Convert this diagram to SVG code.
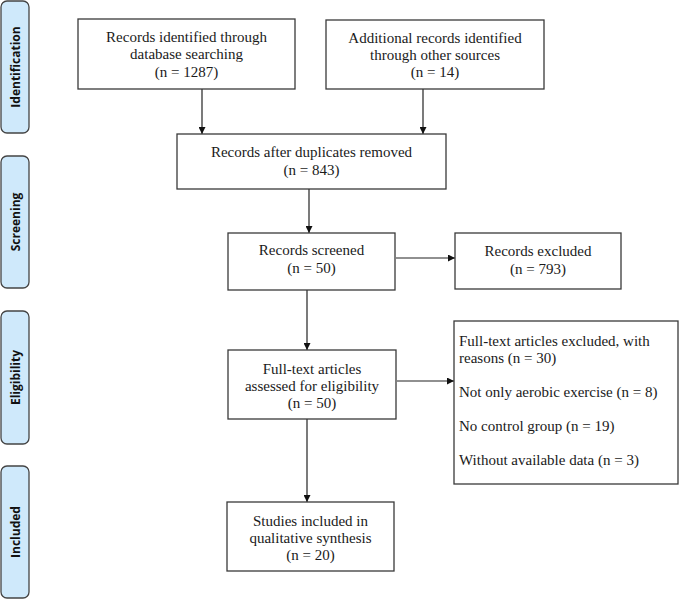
<svg xmlns="http://www.w3.org/2000/svg" width="685" height="600" viewBox="0 0 685 600">
<defs>
<style>
.box{fill:#fff;stroke:#3a3a3a;stroke-width:1.3}
.side{fill:#cfe9fb;stroke:#444;stroke-width:1.3}
.t{font-family:"Liberation Serif","Times New Roman",serif;font-size:15px;fill:#1a1a1a}
.c{text-anchor:middle}
.s{font-family:"Open Sans","DejaVu Sans",sans-serif;font-size:12px;font-weight:bold;fill:#111;text-anchor:middle}
.ln{stroke:#222;stroke-width:1.2;fill:none;marker-end:url(#ah)}
</style>
<marker id="ah" viewBox="0 0 10 10" refX="10" refY="5" markerWidth="7" markerHeight="7" markerUnits="userSpaceOnUse" orient="auto">
<path d="M0,0 L10,5 L0,10 z" fill="#111"/>
</marker>
</defs>
<rect width="685" height="600" fill="#fff"/>

<g id="side-identification"><rect class="side" x="1" y="1" width="28" height="132" rx="6"/><text class="s" transform="translate(19.5,67) rotate(-90)">Identification</text></g>
<g id="side-screening"><rect class="side" x="1" y="156" width="28" height="132" rx="6"/><text class="s" transform="translate(19.5,222) rotate(-90)">Screening</text></g>
<g id="side-eligibility"><rect class="side" x="1" y="311" width="28" height="133" rx="6"/><text class="s" transform="translate(19.5,377.5) rotate(-90)">Eligibility</text></g>
<g id="side-included"><rect class="side" x="1" y="466" width="28" height="132" rx="6"/><text class="s" transform="translate(19.5,532) rotate(-90)">Included</text></g>

<g id="connectors">
<line class="ln" x1="202" y1="89" x2="202" y2="134"/>
<line class="ln" x1="423" y1="89" x2="423" y2="134"/>
<line class="ln" x1="309" y1="189" x2="309" y2="233"/>
<line class="ln" x1="396" y1="258" x2="455" y2="258"/>
<line class="ln" x1="307" y1="290" x2="307" y2="350"/>
<line class="ln" x1="397" y1="381" x2="454" y2="381"/>
<line class="ln" x1="307" y1="419" x2="307" y2="502"/>
</g>

<g id="n-db"><rect class="box" x="78" y="19" width="217" height="70"/>
<text class="t c" x="186.5" y="42">Records identified through</text>
<text class="t c" x="186.5" y="59">database searching</text>
<text class="t c" x="186.5" y="77">(n = 1287)</text></g>

<g id="n-other"><rect class="box" x="326" y="20" width="218" height="69"/>
<text class="t c" x="435" y="43">Additional records identified</text>
<text class="t c" x="435" y="60">through other sources</text>
<text class="t c" x="435" y="77">(n = 14)</text></g>

<g id="n-dup"><rect class="box" x="177" y="134" width="269" height="55"/>
<text class="t c" x="311.5" y="157">Records after duplicates removed</text>
<text class="t c" x="311.5" y="175">(n = 843)</text></g>

<g id="n-screened"><rect class="box" x="228" y="233" width="167" height="57"/>
<text class="t c" x="311.5" y="255">Records screened</text>
<text class="t c" x="311.5" y="273">(n = 50)</text></g>

<g id="n-excluded"><rect class="box" x="455" y="233" width="166" height="56"/>
<text class="t c" x="538" y="256">Records excluded</text>
<text class="t c" x="538" y="274">(n = 793)</text></g>

<g id="n-fulltext"><rect class="box" x="228" y="350" width="168" height="69"/>
<text class="t c" x="312" y="374">Full-text articles</text>
<text class="t c" x="312" y="391">assessed for eligibility</text>
<text class="t c" x="312" y="408">(n = 50)</text></g>

<g id="n-ft-excluded"><rect class="box" x="454" y="321" width="224" height="163"/>
<text class="t" x="459" y="346">Full-text articles excluded, with</text>
<text class="t" x="459" y="363">reasons (n = 30)</text>
<text class="t" x="459" y="397">Not only aerobic exercise (n = 8)</text>
<text class="t" x="459" y="431">No control group (n = 19)</text>
<text class="t" x="459" y="465">Without available data (n = 3)</text></g>

<g id="n-included"><rect class="box" x="227" y="502" width="167" height="69"/>
<text class="t c" x="310.5" y="526">Studies included in</text>
<text class="t c" x="310.5" y="543">qualitative synthesis</text>
<text class="t c" x="310.5" y="560">(n = 20)</text></g>
</svg>
